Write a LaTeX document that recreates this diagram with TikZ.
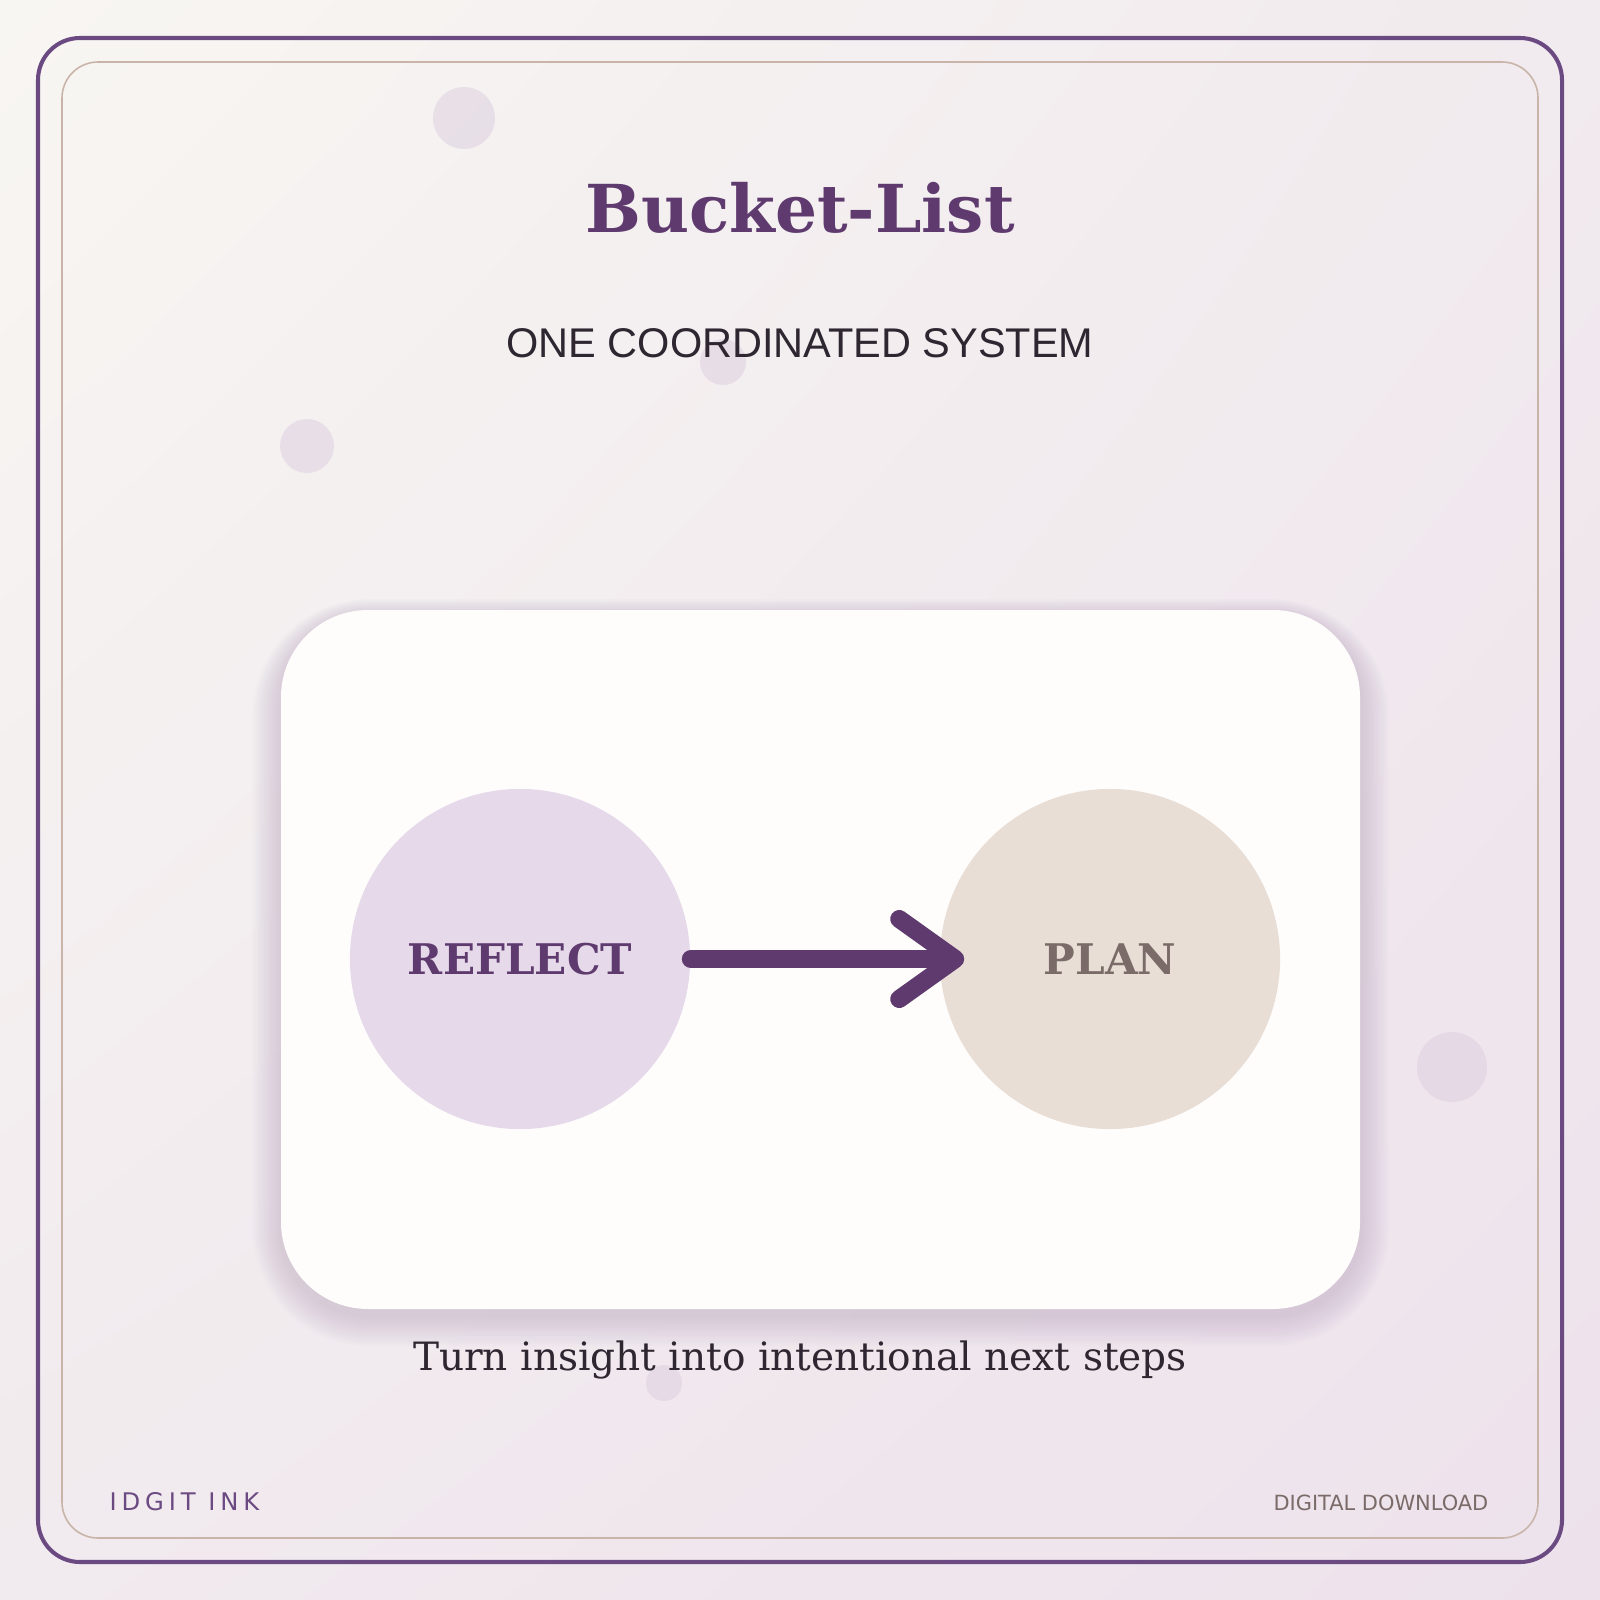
\documentclass[tikz,border=0pt]{standalone}
\usepackage{fontspec}
\setmainfont{DejaVu Serif}
\newfontfamily\subfont{Liberation Sans}
\newfontfamily\labelfont{DejaVu Sans}
\newfontfamily\brandfont[LetterSpace=20]{DejaVu Sans}
\usetikzlibrary{arrows.meta,shadings}
\definecolor{Plum}{HTML}{5E3A6E}
\definecolor{Frame}{HTML}{6B4A82}
\definecolor{Sand}{HTML}{C8B4A8}
\definecolor{Ink}{HTML}{2E2630}
\definecolor{Lilac}{HTML}{E5D9EA}
\definecolor{Linen}{HTML}{E8DED6}
\definecolor{Stone}{HTML}{7A6B68}
\definecolor{Dot}{HTML}{DDD0E0}
\definecolor{Card}{HTML}{FEFDFC}
\definecolor{Haze}{HTML}{6A5478}
\definecolor{BgA}{HTML}{F8F6F2}
\definecolor{BgB}{HTML}{F1EAEE}
\definecolor{BgC}{HTML}{EDE2EC}
\tikzset{
  stage/.style={circle,minimum size=3.4cm,inner sep=0pt,font=\fontsize{12pt}{14pt}\selectfont\bfseries},
  flow/.style={line width=5.1pt,draw=Plum,line cap=round,
    -{Straight Barb[length=0.56cm,width=0.8cm,round]},shorten >=-0.25cm},
  dot/.style={fill=Dot,opacity=.55},
  footer/.style={inner sep=0pt}
}
\begin{document}
\begin{tikzpicture}[x=0.01cm,y=-0.01cm]
  \useasboundingbox (0,0) rectangle (1600,1600);
  % background and frames
  \shade[upper left=BgA,upper right=BgB,lower left=BgB,lower right=BgC] (0,0) rectangle (1600,1600);
  \draw[Frame,line width=1.15pt,rounded corners=0.42cm] (38,38) rectangle (1562,1562);
  \draw[Sand,line width=0.45pt,rounded corners=0.36cm] (62,62) rectangle (1538,1538);
  % scattered dots
  \foreach \cx/\cy/\r in {464/118/31,307/446/27,723/362/23,1452/1067/35,664/1383/18}
    \fill[dot] (\cx,\cy) circle[radius=\r*0.01cm];
  % headings
  \node[anchor=base,text=Plum,font=\fontsize{18.8pt}{22pt}\selectfont\bfseries] (title) at (800,232) {Bucket-List};
  \node[anchor=base,text=Ink,font=\subfont\fontsize{11.8pt}{14pt}\selectfont] (subtitle) at (800,357) {ONE COORDINATED SYSTEM};
  % card with soft shadow
  \foreach \i in {1,...,12}
    \fill[Haze,opacity=.017,rounded corners=0.87cm+\i*0.025cm]
      (281-\i*2.4,610-\i*1.4+6) rectangle (1360+\i*2.4,1309+\i*2.6+6);
  \fill[Card,rounded corners=0.87cm] (281,610) rectangle (1360,1309);
  \node[stage,fill=Lilac,text=Plum] (reflect) at (520,959) {REFLECT};
  \node[stage,fill=Linen,text=Stone] (plan) at (1110,959) {PLAN};
  \draw[flow] (reflect) -- (plan);
  \node[anchor=base,text=Ink,font=\fontsize{11.1pt}{14pt}\selectfont] (caption) at (800,1370) {Turn insight into intentional next steps};
  % footer
  \node[footer,anchor=base west,text=Frame,font=\brandfont\fontsize{6.9pt}{9pt}\selectfont] (brand) at (109,1510) {IDGIT INK};
  \node[footer,anchor=base east,text=Stone,font=\labelfont\fontsize{5.95pt}{8pt}\selectfont] (download) at (1489,1510) {DIGITAL DOWNLOAD};
\end{tikzpicture}
\end{document}
